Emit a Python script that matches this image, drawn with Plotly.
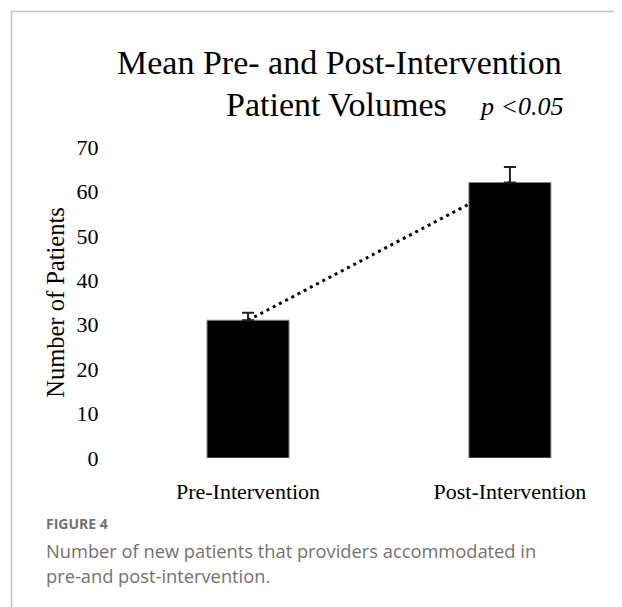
import plotly.graph_objects as go

categories = ["Pre-Intervention", "Post-Intervention"]
mean_patients = [31, 62]
error_plus = [1.7, 3.5]
y_ticks = [0, 10, 20, 30, 40, 50, 60, 70]

OFF = 8  # page body margin
W, H = 622 - OFF, 607 - OFF
L, R, T, B = 110 - OFF, 22, 147 - OFF, 149
pw, ph = W - L - R, H - T - B


def px(x):
    # page pixel -> paper coordinate
    return (x - OFF - L) / pw


def py(y):
    return (H - B - (y - OFF)) / ph


serif = "Liberation Serif, Times New Roman, serif"
sans = "Open Sans, Noto Sans, sans-serif"

fig = go.Figure()

# dotted trend line (drawn beneath the bars)
fig.add_trace(go.Scatter(
    x=categories, y=mean_patients, mode="lines",
    line=dict(color="black", width=3, dash="3px,4px"),
    xaxis="x", yaxis="y", showlegend=False, hoverinfo="skip",
))

fig.add_trace(go.Bar(
    x=categories, y=mean_patients,
    marker=dict(color="black", line=dict(color="#808080", width=1)),
    error_y=dict(type="data", array=error_plus, arrayminus=[0, 0], symmetric=False,
                 color="#222222", thickness=2, width=6),
    width=0.313,
    xaxis="x2", yaxis="y2", showlegend=False,
))

xr = [-0.527, 1.344]
fig.update_layout(
    width=W, height=H,
    margin=dict(l=L, r=R, t=T, b=B),
    paper_bgcolor="white", plot_bgcolor="white",
    showlegend=False,
    xaxis=dict(type="category", range=xr, showgrid=False, zeroline=False, showline=False,
               ticks="outside", ticklen=14, tickcolor="white",
               tickfont=dict(family=serif, size=22, color="black")),
    yaxis=dict(range=[0, 70], tickvals=y_ticks, showgrid=False, zeroline=False, showline=False,
               ticks="outside", ticklen=6, tickcolor="white",
               tickfont=dict(family=serif, size=22, color="black"),
               title=dict(text="Number of Patients", standoff=5,
                          font=dict(family=serif, size=24.5, color="black"))),
    xaxis2=dict(type="category", range=xr, overlaying="x", showticklabels=False,
                showgrid=False, zeroline=False, showline=False),
    yaxis2=dict(range=[0, 70], overlaying="y", showticklabels=False,
                showgrid=False, zeroline=False, showline=False),
)

annotations = [
    dict(text="Mean Pre- and Post-Intervention", x=px(564), y=py(62), xanchor="right",
         yanchor="middle", font=dict(family=serif, size=34, color="black")),
    dict(text="Patient Volumes", x=px(449), y=py(104), xanchor="right",
         yanchor="middle", font=dict(family=serif, size=34, color="black")),
    dict(text="<i>p <0.05</i>", x=px(566), y=py(106), xanchor="right",
         yanchor="middle", font=dict(family=serif, size=26, color="black")),
    dict(text="<b>FIGURE 4</b>", x=px(44), y=py(523), xanchor="left",
         yanchor="middle", font=dict(family=sans, size=14, color="#727272")),
    dict(text="Number of new patients that providers accommodated in", x=px(44), y=py(550),
         xanchor="left", yanchor="middle", font=dict(family=sans, size=18.3, color="#727272")),
    dict(text="pre-and post-intervention.", x=px(44), y=py(575),
         xanchor="left", yanchor="middle", font=dict(family=sans, size=18.3, color="#727272")),
]
for a in annotations:
    a.update(xref="paper", yref="paper", showarrow=False)
fig.update_layout(annotations=annotations)

fig.update_layout(shapes=[
    dict(type="line", xref="paper", yref="paper", x0=px(11), x1=px(640), y0=py(11.5), y1=py(11.5),
         line=dict(color="#c4c4c4", width=1.5)),
    dict(type="line", xref="paper", yref="paper", x0=px(11.5), x1=px(11.5), y0=py(11), y1=py(640),
         line=dict(color="#c4c4c4", width=1.5)),
])

fig.write_html("out.html")
